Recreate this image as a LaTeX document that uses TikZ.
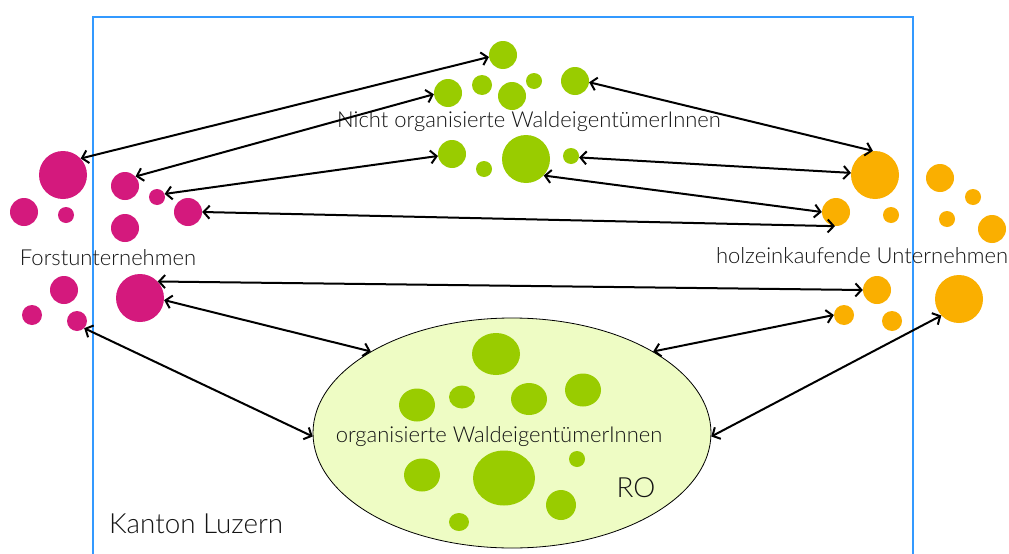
\documentclass[tikz,border=0pt]{standalone}
\usepackage{fontspec}
\IfFontExistsTF{Lato Light}{\setmainfont{Lato Light}}{\setmainfont{Lato}}
\usetikzlibrary{arrows.meta,shapes.geometric}
\definecolor{mag}{RGB}{212,25,125}
\definecolor{grn}{RGB}{153,204,0}
\definecolor{org}{RGB}{250,175,0}
\definecolor{ellfill}{RGB}{238,252,196}
\definecolor{frame}{RGB}{51,153,255}
\definecolor{txt}{RGB}{20,20,20}
\begin{document}
\begin{tikzpicture}[x=1pt,y=-1pt,
  dot/.style={circle,inner sep=0pt,minimum size=#1},
  mdot/.style={dot=#1,fill=mag},
  gdot/.style={dot=#1,fill=grn},
  odot/.style={dot=#1,fill=org},
  edot/.style 2 args={ellipse,inner sep=0pt,minimum width=#1,minimum height=#2,fill=grn},
  lbl/.style={text=txt,font=\fontsize{22}{25}\selectfont,inner sep=0pt},
  biglbl/.style={text=txt,font=\fontsize{27.8}{30}\selectfont,inner sep=0pt},
  link/.style={{Straight Barb[length=6pt,width=13pt]}-{Straight Barb[length=6pt,width=13pt]},line width=2pt,black}]
\useasboundingbox (0,0) rectangle (1009,554);
\fill[white] (0,0) rectangle (1009,554);
% frame
\draw[frame,line width=2.6pt] (93,560) -- (93,17) -- (913,17) -- (913,560);
% ellipse RO
\node[ellipse,draw=black,line width=0.8pt,fill=ellfill,inner sep=0pt,minimum width=398pt,minimum height=230pt] (ell) at (512,433) {};
% top cluster
\node[gdot=28pt] (c1) at (503,55) {};
\node[gdot=28pt] (c2) at (448,93) {};
\node[gdot=20pt] (c3) at (482,85) {};
\node[gdot=28pt] (c4) at (512,96) {};
\node[gdot=16pt] (c5) at (534,81) {};
\node[gdot=28pt] (c6) at (575,81) {};
\node[gdot=28pt] (c7) at (452,154) {};
\node[gdot=16pt] (c8) at (484,169) {};
\node[gdot=48pt] (c9) at (526,159) {};
\node[gdot=16pt] (c10) at (571,156) {};
\node[lbl] (ntxt) at (529,122) {Nicht organisierte WaldeigentümerInnen};
% left cluster
\node[mdot=48pt] (m1) at (63,175) {};
\node[mdot=28pt] (m2) at (24,212) {};
\node[mdot=16pt] (m3) at (66,215) {};
\node[mdot=28pt] (m4) at (125,186) {};
\node[mdot=16pt] (m5) at (157,197) {};
\node[mdot=28pt] (m6) at (188,212) {};
\node[mdot=28pt] (m7) at (125,228) {};
\node[lbl] (ftxt) at (108,258) {Forstunternehmen};
\node[mdot=28pt] (m8) at (64,290) {};
\node[mdot=20pt] (m9) at (32,315) {};
\node[mdot=20pt] (m10) at (77,321) {};
\node[mdot=48pt] (m11) at (140,298) {};
% right cluster
\node[odot=48pt] (o1) at (875,175) {};
\node[odot=28pt] (o2) at (836,212) {};
\node[odot=16pt] (o3) at (891,215) {};
\node[odot=28pt] (o4) at (940,178) {};
\node[odot=16pt] (o5) at (973,197) {};
\node[odot=16pt] (o6) at (947,219) {};
\node[odot=28pt] (o7) at (992,229) {};
\node[lbl] (htxt) at (862,256) {holzeinkaufende Unternehmen};
\node[odot=28pt] (o8) at (877,290) {};
\node[odot=20pt] (o9) at (844,315) {};
\node[odot=20pt] (o10) at (892,321) {};
\node[odot=48pt] (o11) at (959,299) {};
% ellipse contents
\node[edot={48pt}{42pt}] (e1) at (496,354) {};
\node[edot={36pt}{33pt}] (e2) at (417,405) {};
\node[edot={26pt}{23pt}] (e3) at (462,397) {};
\node[edot={36pt}{32pt}] (e4) at (529,399) {};
\node[edot={36pt}{33pt}] (e5) at (583,390) {};
\node[edot={36pt}{33pt}] (e6) at (422,475) {};
\node[edot={62pt}{55pt}] (e7) at (504,478) {};
\node[edot={16pt}{16pt}] (e8) at (577,459) {};
\node[edot={30pt}{30pt}] (e9) at (561,505) {};
\node[edot={20pt}{18pt}] (e10) at (459,522) {};
\node[lbl] (otxt) at (499,437) {organisierte WaldeigentümerInnen};
\node[biglbl] (ro) at (636,488) {RO};
\node[biglbl,anchor=west] (kl) at (109,524) {Kanton Luzern};
% connectors
\draw[link] (m1.43) -- (c1.188);
\draw[link] (m4.42) -- (c2.185);
\draw[link] (m5.22) -- (c7.188);
\draw[link] (m6.0) -- (o2.266);
\draw[link] (c6.355) -- (o1.95);
\draw[link] (c10.350) -- (o1.175);
\draw[link] (c9.317) -- (o2.180);
\draw[link] (m11.43) -- (o8.180);
\draw[link] (m11.355) -- (ell.150);
\draw[link] (m10.315) -- (ell.181);
\draw[link] (o9.180) -- (ell.30);
\draw[link] (o11.223) -- (ell.359);
\end{tikzpicture}
\end{document}
